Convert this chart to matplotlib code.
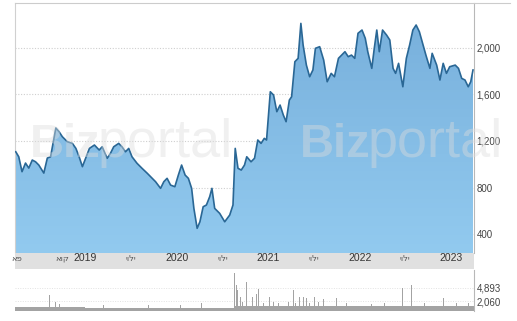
import matplotlib.pyplot as plt
import matplotlib.dates as mdates
from matplotlib.lines import Line2D
from matplotlib.colors import LinearSegmentedColormap
import numpy as np
import pandas as pd

# price series
price_dates = [
    "2018-03-29", "2018-04-10", "2018-04-23", "2018-05-07", "2018-05-20", "2018-06-03",
    "2018-06-16", "2018-06-29", "2018-07-19", "2018-08-02", "2018-08-15", "2018-09-05",
    "2018-09-18", "2018-10-01", "2018-10-21", "2018-11-10", "2018-11-24", "2018-12-07",
    "2018-12-20", "2019-01-04", "2019-01-17", "2019-02-06", "2019-02-25", "2019-03-09",
    "2019-03-29", "2019-04-11", "2019-04-24", "2019-05-14", "2019-05-27", "2019-06-10",
    "2019-06-23", "2019-07-06", "2019-07-26", "2019-08-15", "2019-09-05", "2019-09-25",
    "2019-10-08", "2019-10-28", "2019-11-10", "2019-11-23", "2019-12-07", "2019-12-24",
    "2020-01-07", "2020-01-20", "2020-02-03", "2020-02-16", "2020-02-29", "2020-03-09",
    "2020-03-22", "2020-04-02", "2020-04-15", "2020-04-28", "2020-05-11", "2020-05-20",
    "2020-05-31", "2020-06-20", "2020-07-10", "2020-07-30", "2020-08-12", "2020-08-21",
    "2020-09-01", "2020-09-14", "2020-09-27", "2020-10-06", "2020-10-23", "2020-11-06",
    "2020-11-19", "2020-12-02", "2020-12-15", "2020-12-24", "2021-01-08", "2021-01-21",
    "2021-02-03", "2021-02-16", "2021-03-01", "2021-03-12", "2021-03-25", "2021-04-03",
    "2021-04-16", "2021-04-29", "2021-05-10", "2021-05-19", "2021-06-01", "2021-06-14",
    "2021-06-27", "2021-07-07", "2021-07-24", "2021-08-09", "2021-08-23", "2021-09-08",
    "2021-09-21", "2021-10-07", "2021-10-20", "2021-11-02", "2021-11-15", "2021-11-28",
    "2021-12-11", "2021-12-24", "2022-01-09", "2022-01-22", "2022-02-01", "2022-02-17",
    "2022-02-27", "2022-03-09", "2022-03-19", "2022-04-01", "2022-04-17", "2022-04-30",
    "2022-05-13", "2022-05-23", "2022-06-04", "2022-06-21", "2022-07-05", "2022-07-18",
    "2022-07-31", "2022-08-13", "2022-08-26", "2022-09-08", "2022-09-21", "2022-10-07",
    "2022-10-16", "2022-11-03", "2022-11-16", "2022-11-29", "2022-12-12", "2022-12-25",
    "2023-01-16", "2023-01-29", "2023-02-11", "2023-02-24", "2023-03-09", "2023-03-19",
    "2023-03-28",
]
price_values = [
    1107, 1064, 936, 1010, 967, 1036,
    1021, 993, 924, 1053, 1064, 1311,
    1279, 1236, 1193, 1179, 1136, 1064,
    979, 1064, 1136, 1165, 1122, 1150,
    1051, 1094, 1150, 1179, 1150, 1107,
    1136, 1064, 1008, 965, 922, 879,
    850, 793, 850, 879, 821, 807,
    907, 993, 907, 879, 793, 621,
    450, 506, 635, 650, 721, 793,
    621, 578, 506, 564, 650, 1136,
    965, 950, 993, 1064, 1021, 1051,
    1208, 1179, 1222, 1208, 1622, 1594,
    1451, 1508, 1422, 1365, 1551, 1579,
    1880, 1909, 2209, 2023, 1851, 1751,
    1809, 1995, 2009, 1894, 1708, 1780,
    1751, 1909, 1937, 1966, 1923, 1937,
    1909, 2124, 2152, 2081, 1966, 1823,
    1995, 2152, 1966, 2152, 2109, 2066,
    1823, 1780, 1866, 1665, 1909, 2023,
    2152, 2195, 2137, 2038, 1937, 1823,
    1952, 1851, 1723, 1866, 1780, 1837,
    1851, 1823, 1737, 1723, 1665, 1708,
    1809,
]

# volume: base level + spikes
vol_base_dates = ["2018-03-26", "2019-01-01", "2020-01-01", "2020-08-15", "2021-01-01",
                  "2021-07-01", "2022-01-01", "2022-07-01", "2023-01-01", "2023-04-01"]
vol_base_values = [750, 720, 700, 1100, 1150, 1050, 1000, 1050, 1100, 1200]
vol_dates = ["2018-08-10", "2018-09-03", "2018-09-20", "2019-03-15", "2019-09-10",
             "2020-01-14", "2020-04-08", "2020-08-19",
             "2020-08-26", "2020-09-01", "2020-09-10", "2020-09-20", "2020-10-04", "2020-10-30",
             "2020-11-15", "2020-11-23", "2020-12-10", "2021-01-05", "2021-01-20", "2021-02-10",
             "2021-03-21", "2021-04-09", "2021-04-20", "2021-05-06", "2021-05-19", "2021-06-01",
             "2021-06-15", "2021-07-04", "2021-07-20", "2021-08-09", "2021-09-28", "2021-11-10",
             "2022-02-15", "2022-04-10", "2022-06-21", "2022-07-24", "2022-09-15",
             "2022-11-29", "2023-01-20", "2023-03-10"]
vol_values = [3400, 2000, 1400, 1200, 1200,
              1300, 1600, 8000,
              5500, 4400, 3000, 1900, 6100, 3000,
              3700, 4700, 1800, 2900, 2000, 1700,
              2000, 4400, 1800, 3000, 2900, 2700,
              1800, 3000, 1900, 2500, 2700, 1600,
              1500, 1700, 4900, 5500, 1600,
              2700, 1700, 1800]

price_ticks = [400, 800, 1200, 1600, 2000]
vol_ticks = [2060, 4893]
year_ticks = ["2019-01-01", "2020-01-01", "2021-01-01", "2022-01-01", "2023-01-01"]
year_labels = ["2019", "2020", "2021", "2022", "2023"]
month_ticks = ["2018-04-01", "2018-10-01", "2019-07-01", "2020-07-01", "2021-07-01", "2022-07-01"]
month_labels = ["אפ", "אוק", "יולי", "יולי", "יולי", "יולי"]

x = mdates.date2num(pd.to_datetime(price_dates))
y = np.array(price_values, dtype=float)
xlim = mdates.date2num(pd.to_datetime(["2018-03-26", "2023-04-01"]))

W, H = 517, 321
fig = plt.figure(figsize=(W / 100, H / 100), dpi=100)
plt.rcParams['font.family'] = ['Liberation Sans', 'DejaVu Sans']

def frac(x0, y0, x1, y1):
    return [x0 / W, 1 - y1 / H, (x1 - x0) / W, (y1 - y0) / H]

ax = fig.add_axes(frac(15, 3, 474, 253))
band = fig.add_axes(frac(15, 253, 474, 269))
axv = fig.add_axes(frac(15, 270, 474, 311))

# main price area with vertical gradient
ymin, ymax = 238, 2384
ax.set_xlim(xlim)
ax.set_ylim(ymin, ymax)
poly = ax.fill_between(x, y, ymin, color='none', lw=0)
grad = np.linspace(0, 1, 256).reshape(-1, 1)
cmap = LinearSegmentedColormap.from_list('b', ['#92caef', '#78b0dc'])
img = ax.imshow(grad, cmap=cmap, aspect='auto', origin='lower',
                extent=[xlim[0], xlim[1], ymin, 2250], zorder=1)
img.set_clip_path(poly.get_paths()[0], transform=ax.transData)
ax.plot(x, y, color='#2a6795', lw=1.2, zorder=3)

for t in price_ticks:
    ax.axhline(t, color='#cfcfcf', lw=0.8, ls=(0, (1, 1.5)), zorder=0.5)
ax.yaxis.tick_right()
ax.set_yticks(price_ticks)
ax.set_yticklabels([f"{t:,}" for t in price_ticks])
ax.tick_params(axis='y', length=0, pad=2, labelsize=7, labelcolor='#444444')
ax.tick_params(axis='x', which='both', bottom=False, labelbottom=False)
for s in ['top', 'bottom']:
    ax.spines[s].set_visible(False)
ax.spines['left'].set_color('#d0d0d0')
ax.spines['right'].set_color('#b8b8b8')
ax.spines['left'].set_linewidth(0.8)
ax.spines['right'].set_linewidth(0.8)

# date band
band.set_xlim(xlim)
band.set_facecolor('#e0e0e0')
band.set_yticks([])
for s in band.spines.values():
    s.set_visible(False)
band.set_xticks(mdates.date2num(pd.to_datetime(year_ticks)))
band.set_xticklabels(year_labels)
band.set_xticks(mdates.date2num(pd.to_datetime(month_ticks)), minor=True)
band.set_xticklabels(month_labels, minor=True)
band.tick_params(axis='x', which='major', length=0, pad=-11.5, labelsize=7.5, labelcolor='#333333')
band.tick_params(axis='x', which='minor', length=0, pad=-11, labelsize=6, labelcolor='#555555')
for lbl in band.get_xticklabels(minor=True):
    lbl.set_family(['DejaVu Sans'])

# volume panel
axv.set_xlim(xlim)
vb = mdates.date2num(pd.to_datetime(vol_base_dates))
axv.fill_between(vb, vol_base_values, 0, step='post', color='#a3a3a3', lw=0)
vd = mdates.date2num(pd.to_datetime(vol_dates))
axv.bar(vd, vol_values, width=4, color='#a3a3a3', lw=0)
axv.set_ylim(0, 8700)
axv.yaxis.tick_right()
axv.set_yticks(vol_ticks)
axv.set_yticklabels([f"{t:,}" for t in vol_ticks])
axv.tick_params(axis='y', length=0, pad=2, labelsize=7, labelcolor='#444444')
axv.tick_params(axis='x', which='both', bottom=False, labelbottom=False)
for t in vol_ticks:
    axv.axhline(t, color='#e2e2e2', lw=0.7, ls=(0, (1, 1.5)), zorder=0)
for s in ['top', 'bottom', 'left']:
    axv.spines[s].set_visible(False)
axv.spines['right'].set_color('#b8b8b8')
axv.spines['right'].set_linewidth(0.8)

# top border line extends past the axis
fig.add_artist(Line2D([15 / W, 510 / W], [1 - 3 / H, 1 - 3 / H], color='#cccccc', lw=0.8))

# watermark
for x0 in (30, 300):
    fig.text(x0 / W, 1 - 157 / H, "Biz", fontsize=34, fontweight='bold', color='#dcdcdc',
             alpha=0.42, zorder=5)
    fig.text((x0 + 68) / W, 1 - 157 / H, "portal", fontsize=39, color='#dcdcdc',
             alpha=0.42, zorder=5)

fig.savefig("out.png", dpi=100)
